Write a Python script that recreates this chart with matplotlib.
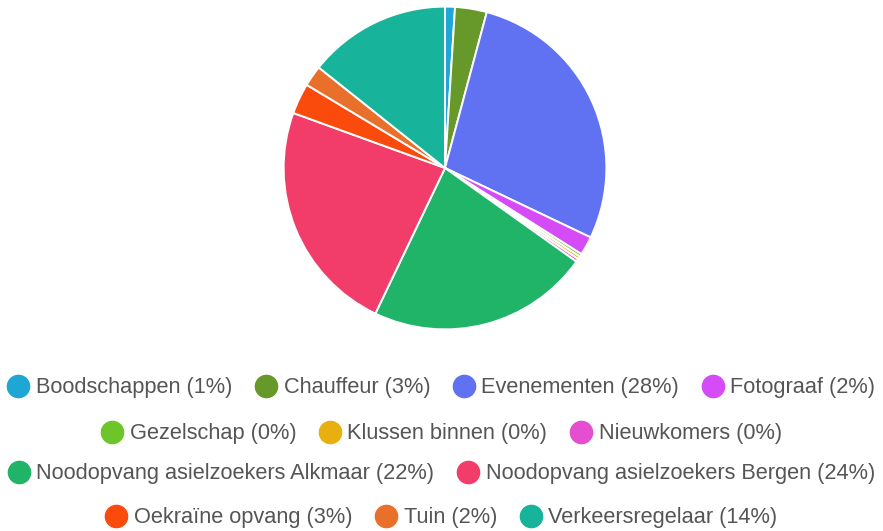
import matplotlib
matplotlib.use("Agg")
import matplotlib.pyplot as plt
from matplotlib.lines import Line2D

labels = ["Boodschappen", "Chauffeur", "Evenementen", "Fotograaf", "Gezelschap",
          "Klussen binnen", "Nieuwkomers", "Noodopvang asielzoekers Alkmaar",
          "Noodopvang asielzoekers Bergen", "Oekraïne opvang", "Tuin", "Verkeersregelaar"]
values = [1.0, 3.2, 28.1, 1.9, 0.3, 0.3, 0.3, 22.4, 23.6, 3.1, 2.1, 14.4]
pct_labels = ["1%", "3%", "28%", "2%", "0%", "0%", "0%", "22%", "24%", "3%", "2%", "14%"]
colors = ["#1ea7d4", "#66992a", "#6072f2", "#d54cf7", "#6ec52a", "#e8b00f",
          "#e54ed0", "#1fb467", "#f23d6b", "#fb4b0c", "#e8702a", "#17b39a"]
rows = [[0, 1, 2, 3], [4, 5, 6], [7, 8], [9, 10, 11]]

W, H = 883, 531
fig = plt.figure(figsize=(W / 100, H / 100), dpi=100)
plt.rcParams['font.family'] = ['Liberation Sans', 'DejaVu Sans']

cx, cy, r = 445, 168, 163
ax = fig.add_axes([(cx - r) / W, (H - cy - r) / H, 2 * r / W, 2 * r / H])
ax.pie(values, colors=colors, startangle=90, counterclock=False, radius=1,
       wedgeprops=dict(edgecolor="white", linewidth=1.4))
ax.set_xlim(-1.01, 1.01)
ax.set_ylim(-1.01, 1.01)
ax.set_aspect("equal")
ax.axis("off")

row_y = [388, 434, 474, 518]
for ri, idxs in enumerate(rows):
    handles = [Line2D([], [], marker="o", linestyle="none", markersize=16,
                      markerfacecolor=colors[i], markeredgecolor=colors[i]) for i in idxs]
    texts = [f"{labels[i]} ({pct_labels[i]})" for i in idxs]
    leg = fig.legend(handles, texts, loc="center", bbox_to_anchor=(0.5, 1 - row_y[ri] / H),
                     ncol=len(idxs), frameon=False, fontsize=15.7, handlelength=1.0,
                     handletextpad=0.3, columnspacing=1.05, borderpad=0)
    for t in leg.get_texts():
        t.set_color("#555555")

fig.savefig("out.png", dpi=100)
